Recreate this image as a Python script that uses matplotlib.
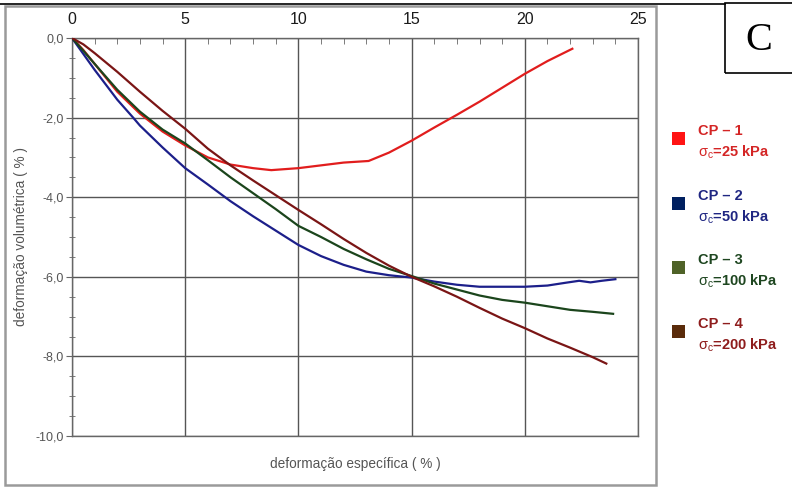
import matplotlib
matplotlib.use("Agg")
import matplotlib.pyplot as plt
from matplotlib.patches import Rectangle
from matplotlib.lines import Line2D
from matplotlib.ticker import MultipleLocator, FuncFormatter

plt.rcParams["font.family"] = ["Liberation Sans", "DejaVu Sans"]
plt.rcParams["mathtext.fontset"] = "custom"
plt.rcParams["mathtext.rm"] = "Liberation Sans:bold"
plt.rcParams["mathtext.it"] = "Liberation Sans"
plt.rcParams["mathtext.bf"] = "Liberation Sans:bold"

# Specific strain (%) vs volumetric strain (%) for each specimen
cp1_x = [0, 0.5, 1, 2, 3, 4, 5, 6, 7, 8, 8.8, 10, 11, 12, 13.1, 14, 15, 16, 17, 18, 19, 20, 21, 22.1]
cp1_y = [0, -0.3, -0.65, -1.35, -1.9, -2.35, -2.7, -3.0, -3.18, -3.27, -3.32, -3.27, -3.2, -3.13,
         -3.09, -2.88, -2.58, -2.25, -1.93, -1.6, -1.25, -0.9, -0.58, -0.27]

cp2_x = [0, 0.5, 1, 2, 2.7, 3, 4, 5, 6, 7, 8, 9, 10, 11, 12, 13, 14, 15, 16, 17, 18, 19, 20,
         21, 21.8, 22.4, 22.9, 23.4, 24.0]
cp2_y = [0, -0.4, -0.8, -1.55, -2.0, -2.2, -2.75, -3.27, -3.68, -4.1, -4.48, -4.84, -5.2, -5.48,
         -5.7, -5.87, -5.96, -6.02, -6.12, -6.2, -6.25, -6.25, -6.25, -6.22, -6.15, -6.1, -6.14,
         -6.1, -6.06]

cp3_x = [0, 0.5, 1, 2, 3, 4, 5, 6, 7, 8, 9, 10, 11, 12, 13, 14, 15, 16, 17, 18, 19, 20, 21, 22,
         23, 23.9]
cp3_y = [0, -0.32, -0.65, -1.3, -1.85, -2.3, -2.65, -3.07, -3.5, -3.9, -4.3, -4.72, -5.0, -5.3,
         -5.56, -5.8, -5.98, -6.17, -6.32, -6.47, -6.58, -6.65, -6.74, -6.83, -6.88, -6.93]

cp4_x = [0, 0.5, 1, 2, 3, 4, 5, 6, 7, 8, 9, 10, 11, 12, 13, 14, 15, 16, 17, 18, 19, 20, 21, 22,
         23, 23.6]
cp4_y = [0, -0.16, -0.38, -0.85, -1.35, -1.83, -2.28, -2.78, -3.2, -3.58, -3.95, -4.32, -4.68,
         -5.05, -5.4, -5.72, -6.0, -6.24, -6.5, -6.78, -7.05, -7.29, -7.55, -7.78, -8.02, -8.18]

series_names = ["CP \u2013 1", "CP \u2013 2", "CP \u2013 3", "CP \u2013 4"]
pressures = ["25", "50", "100", "200"]
line_colors = ["#e11d1d", "#1c1f8a", "#1b451c", "#7a1515"]
swatch_colors = ["#ff1414", "#002060", "#4f6228", "#5a2b0a"]
label_colors = ["#d42525", "#1f2682", "#1e4620", "#8e1c1c"]

W, H = 792, 488
fig = plt.figure(figsize=(W / 100, H / 100), dpi=100)

# outer frame of the chart panel
fig.add_artist(Rectangle((5 / W, 3 / H), 651 / W, 479 / H, transform=fig.transFigure,
                         fill=False, edgecolor="#9a9a9a", lw=1.8))
# rule across the top and the panel letter box
fig.add_artist(Line2D([0, 725 / W], [1 - 4 / H, 1 - 4 / H], transform=fig.transFigure,
                      color="black", lw=1.2))
fig.add_artist(Rectangle((725 / W, 1 - 73 / H), 80 / W, 70 / H, transform=fig.transFigure,
                         fill=False, edgecolor="black", lw=1.2))
fig.text(759 / W, 1 - 40 / H, "C", family="Liberation Serif", fontsize=29,
         ha="center", va="center", color="black")

ax = fig.add_axes([72 / W, 52 / H, 566 / W, 398 / H])
for xs, ys, c in zip([cp1_x, cp2_x, cp3_x, cp4_x], [cp1_y, cp2_y, cp3_y, cp4_y], line_colors):
    ax.plot(xs, ys, color=c, lw=1.6, zorder=3)

ax.set_xlim(0, 25)
ax.set_ylim(-10, 0)
ax.xaxis.tick_top()
ax.xaxis.set_major_locator(MultipleLocator(5))
ax.xaxis.set_minor_locator(MultipleLocator(1))
ax.yaxis.set_major_locator(MultipleLocator(2))
ax.yaxis.set_minor_locator(MultipleLocator(0.5))
ax.yaxis.set_major_formatter(FuncFormatter(lambda v, p: f"{v:.1f}".replace(".", ",")))
ax.grid(which="major", color="#555555", lw=1.0, zorder=1)
for s in ax.spines.values():
    s.set_color("#666666")
    s.set_linewidth(1.0)

ax.tick_params(axis="x", which="major", top=True, bottom=False, length=0, pad=8,
               labelsize=11.5, labelcolor="#1a1a1a")
ax.tick_params(axis="x", which="minor", top=True, bottom=False, direction="in", length=4,
               color="#666666")
ax.tick_params(axis="y", which="major", direction="out", length=4, pad=2, labelsize=9,
               labelcolor="#555555", color="#666666")
ax.tick_params(axis="y", which="minor", direction="inout", length=4, color="#666666")

ax.set_ylabel("deforma\u00e7\u00e3o volum\u00e9trica ( % )", fontsize=9.8, color="#555555")
ax.yaxis.set_label_coords(-44 / 566, 0.5)
ax.set_xlabel("deforma\u00e7\u00e3o espec\u00edfica ( % )", fontsize=9.8, color="#555555")
ax.xaxis.set_label_position("bottom")
ax.xaxis.set_label_coords(0.5, -21 / 398)

# legend drawn as coloured swatches with two-line labels
swatch_y = [138, 203, 267, 331]
for name, p, sc, tc, yc in zip(series_names, pressures, swatch_colors, label_colors, swatch_y):
    fig.add_artist(Rectangle((672 / W, 1 - (yc + 6.5) / H), 13 / W, 13 / H,
                             transform=fig.transFigure, facecolor=sc, edgecolor="none"))
    fig.text(698 / W, 1 - (yc - 7) / H, name, fontsize=10.5, fontweight="bold", color=tc,
             ha="left", va="center")
    fig.text(698 / W, 1 - (yc + 14) / H, r"$\sigma_{c}$=" + p + " kPa", fontsize=10.5,
             fontweight="bold", color=tc, ha="left", va="center")

fig.savefig("out.png", dpi=100)
